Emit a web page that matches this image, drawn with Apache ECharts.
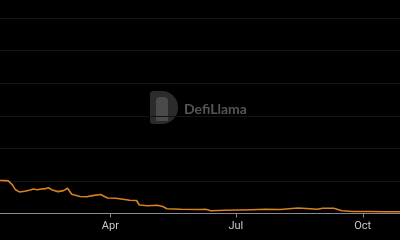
<!DOCTYPE html>
<html><head><meta charset="utf-8">
<style>html,body{margin:0;padding:0;background:#000;}#c{width:400px;height:240px;}</style>
<script src="https://cdn.jsdelivr.net/npm/echarts@6/dist/echarts.min.js"></script>
</head><body><div id="c"></div>
<script>
const dates = ['2024-01-12','2024-01-16','2024-01-18','2024-01-21','2024-01-23','2024-01-26','2024-01-30','2024-02-03','2024-02-05','2024-02-08','2024-02-10','2024-02-14','2024-02-16','2024-02-19','2024-02-23','2024-02-27','2024-03-01','2024-03-04','2024-03-10','2024-03-15','2024-03-19','2024-03-25','2024-03-27','2024-03-30','2024-04-05','2024-04-10','2024-04-15','2024-04-20','2024-04-22','2024-04-28','2024-05-05','2024-05-09','2024-05-12','2024-05-22','2024-06-05','2024-06-09','2024-06-13','2024-06-23','2024-07-03','2024-07-12','2024-07-22','2024-08-02','2024-08-15','2024-08-24','2024-08-29','2024-09-02','2024-09-10','2024-09-16','2024-09-24','2024-10-05','2024-10-18','2024-10-28'];
const values = [1.015,1.01,1.00,0.877,0.738,0.662,0.683,0.723,0.754,0.729,0.745,0.763,0.794,0.723,0.671,0.702,0.775,0.591,0.523,0.514,0.548,0.585,0.538,0.477,0.468,0.437,0.406,0.40,0.262,0.240,0.252,0.215,0.148,0.129,0.123,0.129,0.086,0.098,0.108,0.117,0.129,0.123,0.169,0.145,0.129,0.163,0.163,0.086,0.062,0.062,0.055,0.055];
const yTicks = [0,1,2,3,4,5,6];
const watermarkText = 'DefiLlama';
const monthNames = ['Jan','Feb','Mar','Apr','May','Jun','Jul','Aug','Sep','Oct','Nov','Dec'];

const chart = echarts.init(document.getElementById('c'), null, {renderer:'canvas'});
chart.setOption({
  backgroundColor:'#000000',
  animation:false,
  grid:{left:0,right:0,top:18,bottom:26.5,containLabel:false},
  graphic:[
    {type:'rect',left:150,top:91,z:-1,shape:{width:28,height:33,r:[3,16,16,3]},style:{fill:'#2b2b2b'}},
    {type:'rect',left:156,top:97,z:-1,shape:{width:12,height:24,r:[4,4,0,0]},style:{fill:'#4a4a4a'}},
    {type:'text',left:184,top:102,z:-1,style:{text:watermarkText,fill:'#555555',font:'bold 14px Lato, sans-serif'}}
  ],
  xAxis:{type:'time',min:'dataMin',max:'dataMax',splitNumber:3,
    axisLine:{lineStyle:{color:'#8a8a8a',width:1}},
    axisTick:{show:true,length:4,lineStyle:{color:'#8a8a8a'}},
    axisLabel:{color:'#c8c8c8',fontSize:11,fontFamily:'Roboto, sans-serif',margin:7,
      formatter:function(v){return monthNames[new Date(v).getMonth()];}},
    splitLine:{show:false}},
  yAxis:{type:'value',min:yTicks[0],max:yTicks[yTicks.length-1],interval:1,
    axisLabel:{show:false},axisLine:{show:false},axisTick:{show:false},
    splitLine:{lineStyle:{color:'#141414',width:1}}},
  series:[{type:'line',data:dates.map((d,i)=>[d,values[i]]),showSymbol:false,
    lineStyle:{color:'#d9801f',width:1.6},itemStyle:{color:'#d9801f'}}]
});
</script></body></html>
